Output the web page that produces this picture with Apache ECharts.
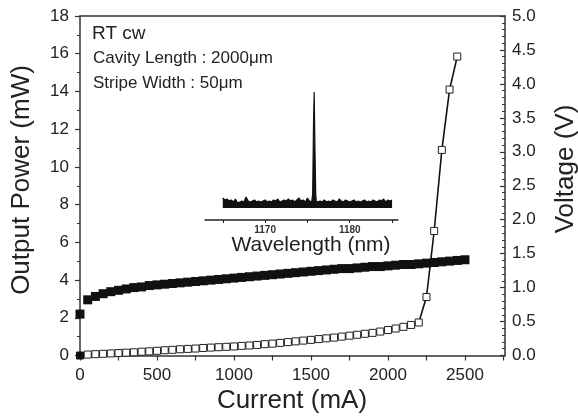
<!DOCTYPE html>
<html>
<head>
<meta charset="utf-8">
<script src="https://cdn.jsdelivr.net/npm/echarts@6/dist/echarts.min.js"></script>
<style>html,body{margin:0;padding:0;background:#fff}#c{width:578px;height:419px}</style>
</head>
<body>
<div id="c"></div>
<script>
// Current (mA) sample points
var currentV = [0,50,100,150,200,250,300,350,400,450,500,550,600,650,700,750,800,850,900,950,1000,1050,1100,1150,1200,1250,1300,1350,1400,1450,1500,1550,1600,1650,1700,1750,1800,1850,1900,1950,2000,2050,2100,2150,2200,2250,2300,2350,2400,2450,2500];
// Voltage (V) - filled squares
var voltage = [0.61,0.82,0.87,0.91,0.94,0.96,0.98,1.00,1.01,1.03,1.04,1.05,1.06,1.07,1.08,1.09,1.10,1.11,1.12,1.13,1.14,1.15,1.16,1.17,1.18,1.19,1.20,1.21,1.22,1.23,1.24,1.25,1.26,1.27,1.28,1.28,1.29,1.30,1.31,1.31,1.32,1.33,1.34,1.34,1.35,1.36,1.37,1.38,1.39,1.40,1.41];
// Output power (mW) - open squares
var currentP = [0,50,100,150,200,250,300,350,400,450,500,550,600,650,700,750,800,850,900,950,1000,1050,1100,1150,1200,1250,1300,1350,1400,1450,1500,1550,1600,1650,1700,1750,1800,1850,1900,1950,2000,2050,2100,2150,2200,2250,2300,2350,2400,2450];
var power = [0,0.05,0.07,0.09,0.11,0.13,0.15,0.17,0.20,0.22,0.25,0.28,0.30,0.33,0.35,0.37,0.40,0.42,0.44,0.46,0.48,0.51,0.53,0.56,0.60,0.63,0.67,0.71,0.75,0.79,0.83,0.87,0.91,0.95,1.00,1.05,1.10,1.15,1.20,1.27,1.35,1.43,1.52,1.62,1.75,3.1,6.6,10.9,14.1,15.85];
// Inset spectrum
var wavelength = [1165,1165.25,1165.5,1165.75,1166,1166.25,1166.5,1166.75,1167,1167.25,1167.5,1167.75,1168,1168.25,1168.5,1168.75,1169,1169.25,1169.5,1169.75,1170,1170.25,1170.5,1170.75,1171,1171.25,1171.5,1171.75,1172,1172.25,1172.5,1172.75,1173,1173.25,1173.5,1173.75,1174,1174.25,1174.5,1174.75,1175,1175.25,1175.5,1175.62,1175.72,1175.8,1175.88,1175.98,1176.05,1176.25,1176.5,1176.75,1177,1177.25,1177.5,1177.75,1178,1178.25,1178.5,1178.75,1179,1179.25,1179.5,1179.75,1180,1180.25,1180.5,1180.75,1181,1181.25,1181.5,1181.75,1182,1182.25,1182.5,1182.75,1183,1183.25,1183.5,1183.75,1184,1184.25,1184.5,1184.75,1185];
var intensity = [10,8,9,7,8,6,9,5,6,7,6,11,7,6,7,8,6,7,6,7,8,6,7,6,8,7,9,6,7,8,7,9,7,8,6,8,10,7,8,6,10,7,6,14,85,116,65,14,6,6,7,6,8,6,7,6,8,7,6,9,7,6,8,7,6,7,8,6,7,6,7,8,6,7,6,8,7,6,8,7,9,6,8,7,8];
var xMajor = [0,500,1000,1500,2000,2500];
var xTicks = [0,250,500,750,1000,1250,1500,1750,2000,2250,2500,2750];
var insetTicks = [1165,1170,1175,1180,1185];
var insetLabels = [1170,1180];

var FONT = 'Liberation Sans, Arial, sans-serif';
var TXT = '#222';
var AX = '#333';
function plain(v){ return String(Math.round(v)); }

var pData = currentP.map(function(c,i){
  var d = {value:[c, power[i]]};
  if (i === 0) d.itemStyle = {color:'#111', borderColor:'#111'};
  return d;
});

var chart = echarts.init(document.getElementById('c'), null, {renderer:'canvas'});
chart.setOption({
  animation:false,
  backgroundColor:'#fff',
  grid:[
    {left:80, right:73, top:16, bottom:63.5},
    {left:205, width:193, top:90, height:130}
  ],
  xAxis:[
    {gridIndex:0, type:'value', min:0, max:2760, position:'bottom',
     axisLine:{show:true, onZero:false, lineStyle:{color:AX, width:1.5}},
     axisTick:{show:true, inside:false, length:5, customValues:xTicks, lineStyle:{color:AX, width:1.2}},
     axisLabel:{customValues:xMajor, margin:11, color:TXT, fontSize:17, fontFamily:FONT, formatter:plain},
     splitLine:{show:false}},
    {gridIndex:0, type:'value', min:0, max:2760, position:'top',
     axisLine:{show:true, onZero:false, lineStyle:{color:AX, width:1.5}},
     axisTick:{show:false}, axisLabel:{show:false}, splitLine:{show:false}},
    {gridIndex:1, type:'value', min:1162.9, max:1185.7, position:'bottom',
     axisLine:{show:true, onZero:false, lineStyle:{color:'#222', width:1.5}},
     axisTick:{show:true, inside:false, length:3, customValues:insetTicks, lineStyle:{color:'#222'}},
     axisLabel:{customValues:insetLabels, margin:5, color:'#333', fontSize:10, fontWeight:'bold', fontFamily:FONT, formatter:plain},
     splitLine:{show:false}}
  ],
  yAxis:[
    {gridIndex:0, type:'value', min:0, max:18, interval:2, position:'left',
     axisLine:{show:true, onZero:false, lineStyle:{color:AX, width:1.5}},
     axisTick:{show:true, inside:false, length:5, lineStyle:{color:AX, width:1.2}},
     minorTick:{show:true, splitNumber:2, length:3, lineStyle:{color:AX}},
     axisLabel:{margin:11, color:TXT, fontSize:17, fontFamily:FONT, formatter:plain},
     splitLine:{show:false}},
    {gridIndex:0, type:'value', min:0, max:5, interval:0.5, position:'right',
     axisLine:{show:true, onZero:false, lineStyle:{color:AX, width:1.5}},
     axisTick:{show:true, inside:true, length:5, lineStyle:{color:AX, width:1.2}},
     minorTick:{show:true, splitNumber:5, length:3, lineStyle:{color:AX}},
     axisLabel:{margin:7, color:TXT, fontSize:17, fontFamily:FONT, formatter:function(v){return v.toFixed(1);}},
     splitLine:{show:false}},
    {gridIndex:1, type:'value', min:-12, max:118, show:false}
  ],
  series:[
    {type:'line', xAxisIndex:0, yAxisIndex:1, data:currentV.map(function(c,i){return [c, voltage[i]];}),
     symbol:'rect', symbolSize:9, showSymbol:true,
     lineStyle:{width:0}, itemStyle:{color:'#111'}, z:2},
    {type:'line', xAxisIndex:0, yAxisIndex:0, data:pData,
     symbol:'rect', symbolSize:7, showSymbol:true,
     lineStyle:{color:'#111', width:1.6},
     itemStyle:{color:'#fff', borderColor:'#222', borderWidth:1}, z:3},
    {type:'line', xAxisIndex:2, yAxisIndex:2, data:wavelength.map(function(w,i){return [w, intensity[i]];}),
     showSymbol:false, symbol:'none', lineStyle:{color:'#111', width:1.2},
     areaStyle:{color:'#111', opacity:1}}
  ],
  graphic:[
    {type:'text', x:92, y:34, style:{text:'RT cw', font:'19px '+FONT, fill:TXT, textVerticalAlign:'middle'}},
    {type:'text', x:93, y:58, style:{text:'Cavity Length : 2000μm', font:'17px '+FONT, fill:TXT, textVerticalAlign:'middle'}},
    {type:'text', x:93, y:83, style:{text:'Stripe Width : 50μm', font:'17px '+FONT, fill:TXT, textVerticalAlign:'middle'}},
    {type:'text', x:311, y:245, style:{text:'Wavelength (nm)', font:'21px '+FONT, fill:TXT, textAlign:'center', textVerticalAlign:'middle'}},
    {type:'text', x:292, y:401, style:{text:'Current (mA)', font:'26px '+FONT, fill:TXT, textAlign:'center', textVerticalAlign:'middle'}},
    {type:'text', x:22, y:180, rotation:Math.PI/2, style:{text:'Output Power (mW)', font:'26px '+FONT, fill:TXT, textAlign:'center', textVerticalAlign:'middle'}},
    {type:'text', x:566, y:169, rotation:Math.PI/2, style:{text:'Voltage (V)', font:'26px '+FONT, fill:TXT, textAlign:'center', textVerticalAlign:'middle'}}
  ]
});
</script>
</body>
</html>
